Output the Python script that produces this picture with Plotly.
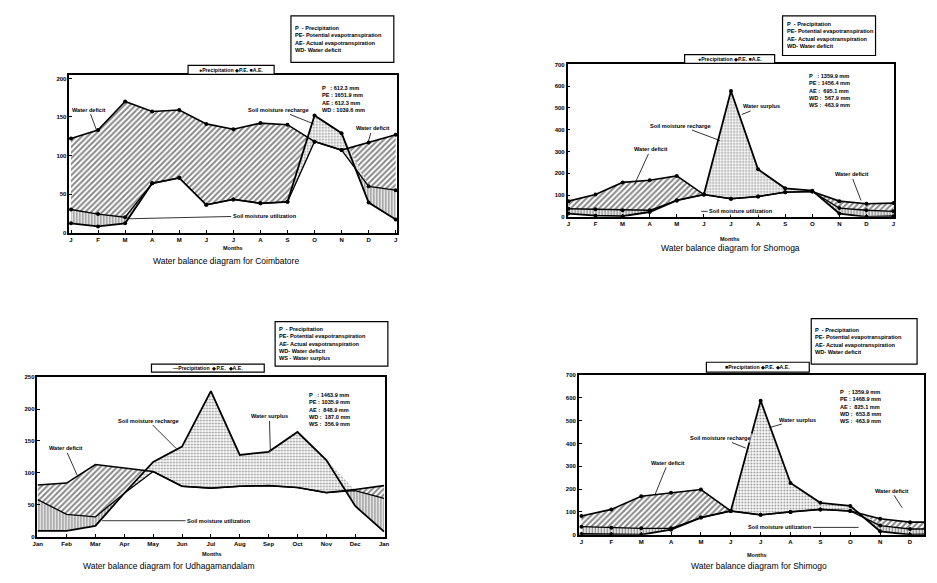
import numpy as np
import plotly.graph_objects as go

PAGE_W, PAGE_H = 937, 583
OFF = 8                      # default body margin of the html page
W, H = PAGE_W - 2 * OFF, PAGE_H - 2 * OFF

# ---------------- data ----------------
months_short = ["J", "F", "M", "A", "M", "J", "J", "A", "S", "O", "N", "D", "J"]
months_long = ["Jan", "Feb", "Mar", "Apr", "May", "Jun", "Jul", "Aug", "Sep", "Oct", "Nov", "Dec", "Jan"]

# Coimbatore
coim_P = [12, 8, 12, 64, 71, 36, 43, 38, 40, 152, 129, 39, 17]
coim_PE = [122, 133, 170, 157, 159, 141, 134, 142, 140, 118, 107, 117, 127]
coim_AE = [30, 24, 20, 64, 71, 36, 43, 38, 40, 118, 107, 60, 55]

# Shomoga (upper)
sho_P = [15, 5, 3, 22, 75, 102, 578, 218, 131, 120, 15, 0, 3]
sho_PE = [72, 102, 158, 168, 188, 102, 83, 93, 113, 116, 72, 60, 63]
sho_AE = [37, 35, 30, 30, 75, 102, 83, 93, 113, 116, 40, 30, 25]

# Udhagamandalam
udh_P = [9, 9, 17, 68, 117, 141, 228, 128, 133, 164, 120, 48, 8]
udh_PE = [81, 84, 113, 107, 102, 79, 76, 79, 80, 77, 69, 74, 80]
udh_AE = [58, 35, 31, 68, 102, 79, 76, 79, 80, 77, 69, 72, 60]

# Shimogo (lower)
shi_P = [3, 2, 0, 22, 75, 104, 588, 227, 140, 126, 15, 0, 3]
shi_PE = [82, 111, 169, 184, 198, 104, 87, 100, 111, 104, 70, 55, 55]
shi_AE = [35, 30, 28, 28, 75, 104, 87, 100, 111, 104, 40, 25, 25]

coim_stats = ["P   : 612.3 mm", "PE : 1651.9 mm", "AE : 612.3 mm", "WD : 1039.6 mm"]
sho_stats = ["P   : 1359.9 mm", "PE : 1456.4 mm", "AE :  695.1 mm", "WD :  567.9 mm", "WS :  463.9 mm"]
udh_stats = ["P   : 1463.9 mm", "PE : 1035.9 mm", "AE :  848.9 mm", "WD :  187.0 mm", "WS :  356.9 mm"]
shi_stats = ["P   : 1359.9 mm", "PE : 1468.9 mm", "AE :  825.1 mm", "WD :  653.8 mm", "WS :  463.9 mm"]

defs4 = ["P  - Precipitation", "PE- Potential evapotranspiration",
         "AE- Actual evapotranspiration", "WD- Water deficit"]
defs5 = defs4 + ["WS - Water surplus"]

FONT = "Liberation Sans, Arial, sans-serif"


def px(x):
    return min(1.0, max(0.0, (x - OFF) / W))


def py(y):
    return min(1.0, max(0.0, 1 - (y - OFF) / H))


panels = [
    dict(P=coim_P, PE=coim_PE, AE=coim_AE, ticks=months_short,
         xd=(65, 396), yd=(73, 232), xr=[-0.06, 12.04], yr=[0, 204], dt=50, markers=True,
         title="Water balance diagram for Coimbatore", title_xy=(223, 261), months_xy=(230, 248),
         legend_box=(185, 63, 272, 72), legend_txt="●Precipitation ◆P.E. ■A.E.",
         defs=defs4, defs_box=(289, 13, 393, 60), defs_xy=(291, 36),
         stats=coim_stats, stats_xy=(318, 97)),
    dict(P=sho_P, PE=sho_PE, AE=sho_AE, ticks=months_short,
         xd=(568.7, 899), yd=(62, 216), xr=[-0.03, 12.03], yr=[0, 700], dt=100, markers=True,
         title="Water balance diagram for Shomoga", title_xy=(733, 248), months_xy=(733, 238),
         legend_box=(687, 52, 778, 61), legend_txt="●Precipitation ◆P.E. ■A.E.",
         defs=defs4, defs_box=(786, 13, 880, 53), defs_xy=(788, 32),
         stats=sho_stats, stats_xy=(811, 88)),
    dict(P=udh_P, PE=udh_PE, AE=udh_AE, ticks=months_long,
         xd=(32.7, 384), yd=(378, 539.3), xr=[-0.01, 12.03], yr=[0, 250], dt=50, markers=False,
         title="Water balance diagram for Udhagamandalam", title_xy=(166, 569), months_xy=(209, 557),
         legend_box=(148, 365, 262, 373), legend_txt="—Precipitation  ◆P.E.  ◆A.E.",
         defs=defs5, defs_box=(273, 322, 387, 367), defs_xy=(275, 344),
         stats=udh_stats, stats_xy=(305, 411)),
    dict(P=shi_P, PE=shi_PE, AE=shi_AE, ticks=months_short,
         xd=(580, 937), yd=(376, 537.3), xr=[-0.09, 11.47], yr=[0, 700], dt=100, markers=True,
         title="Water balance diagram for Shimogo", title_xy=(762, 569), months_xy=(760, 558),
         legend_box=(709, 363, 813, 373), legend_txt="■Precipitation ◆P.E. ◆A.E.",
         defs=defs4, defs_box=(815, 319, 922, 365), defs_xy=(817, 342),
         stats=shi_stats, stats_xy=(842, 408)),
]

fig = go.Figure()
annotations = []
shapes = []

for i, p in enumerate(panels):
    n = "" if i == 0 else str(i + 1)
    xa, ya = "x" + n, "y" + n
    x = list(range(len(p["P"])))
    P = np.array(p["P"], float)
    PE = np.array(p["PE"], float)
    AE = np.array(p["AE"], float)
    top_pa = np.maximum(P, AE)

    def band(lower, upper, shape, fg, size, sol):
        fig.add_trace(go.Scatter(x=x, y=lower, xaxis=xa, yaxis=ya, mode="lines",
                                 line=dict(width=0), showlegend=False, hoverinfo="skip"))
        fig.add_trace(go.Scatter(x=x, y=upper, xaxis=xa, yaxis=ya, mode="lines",
                                 line=dict(width=0), fill="tonexty", fillcolor="rgba(0,0,0,0)",
                                 fillpattern=dict(shape=shape, fgcolor=fg, bgcolor="white",
                                                  size=size, solidity=sol),
                                 showlegend=False, hoverinfo="skip"))

    # water deficit (PE above AE)
    band(AE, PE, "/", "#111111", 4, 0.5)
    # soil moisture utilisation (AE above P)
    band(P, top_pa, "|", "#111111", 3, 0.5)
    # water surplus / recharge (P above AE)
    band(AE, top_pa, ".", "#222222", 3, 0.35)

    mk = dict(size=4, color="black") if p["markers"] else None
    mode = "lines+markers" if p["markers"] else "lines"
    for name, arr, w in (("Precipitation", P, 1.8), ("P.E.", PE, 1.6), ("A.E.", AE, 1.3)):
        fig.add_trace(go.Scatter(x=x, y=arr, xaxis=xa, yaxis=ya, mode=mode, name=name,
                                 line=dict(color="black", width=w), marker=mk,
                                 showlegend=False, cliponaxis=(i == 3)))

    axis_common = dict(showline=True, linecolor="black", linewidth=1.5, mirror=True,
                       showgrid=False, zeroline=False, ticks="inside", ticklen=3,
                       tickcolor="black",
                       tickfont=dict(family=FONT, size=6, color="black", weight="bold"))
    fig.layout["xaxis" + n] = dict(
        axis_common, domain=[px(p["xd"][0]), px(p["xd"][1])], range=p["xr"],
        anchor=ya, tickmode="array", tickvals=x, ticktext=p["ticks"])
    yt = list(range(0, int(p["yr"][1]) + 1, p["dt"]))
    fig.layout["yaxis" + n] = dict(
        axis_common, domain=[py(p["yd"][1]), py(p["yd"][0])], range=p["yr"],
        anchor=xa, tickmode="array", tickvals=yt, ticktext=[str(v) for v in yt])

    # titles
    annotations.append(dict(x=px(p["title_xy"][0]), y=py(p["title_xy"][1]), xref="paper", yref="paper",
                            xanchor="center", yanchor="middle",
                            text=p["title"], showarrow=False,
                            font=dict(family=FONT, size=8.5, color="black")))
    annotations.append(dict(x=px(p["months_xy"][0]), y=py(p["months_xy"][1]), xref="paper", yref="paper",
                            xanchor="center", yanchor="middle",
                            text="Months", showarrow=False,
                            font=dict(family=FONT, size=5.5, color="black", weight="bold")))
    # legend box
    lb = p["legend_box"]
    shapes.append(dict(type="rect", xref="paper", yref="paper", x0=px(lb[0]), x1=px(lb[2]),
                       y0=py(lb[3]), y1=py(lb[1]), line=dict(color="black", width=1.2),
                       fillcolor="white", layer="above"))
    annotations.append(dict(x=px((lb[0] + lb[2]) / 2), y=py((lb[1] + lb[3]) / 2), xref="paper", yref="paper",
                            xanchor="center", yanchor="middle",
                            text=p["legend_txt"], showarrow=False,
                            font=dict(family=FONT, size=5.2, color="black", weight="bold")))
    # definitions box
    db = p["defs_box"]
    shapes.append(dict(type="rect", xref="paper", yref="paper", x0=px(db[0]), x1=px(db[2]),
                       y0=py(db[3]), y1=py(db[1]), line=dict(color="black", width=1.2)))
    annotations.append(dict(x=px(p["defs_xy"][0]), y=py(p["defs_xy"][1]), xref="paper", yref="paper",
                            text="<br>".join(p["defs"]), showarrow=False, xanchor="left",
                            yanchor="middle", align="left",
                            font=dict(family=FONT, size=5.6, color="black", weight="bold")))
    # stats
    annotations.append(dict(x=px(p["stats_xy"][0]), y=py(p["stats_xy"][1]), xref="paper", yref="paper",
                            text="<br>".join(p["stats"]), showarrow=False, xanchor="left",
                            yanchor="middle", align="left",
                            font=dict(family=FONT, size=5.6, color="black", weight="bold")))

# pointer labels: (panel index, label, target month, target value, ax, ay)
labels = [
    (0, "Water deficit", 0.96, 131, -8, -22),
    (0, "Soil moisture recharge", 8.97, 141, -35, -14),
    (0, "Water deficit", 10.98, 117, 4, -14),
    (0, "Soil moisture utilization", 2.13, 18, 136, -3),
    (1, "Soil moisture recharge", 5.6, 350, -40, -15),
    (1, "Water surplus", 6.4, 470, 20, -8),
    (1, "Water deficit", 2.44, 149, 16, -35),
    (1, "Water deficit", 10.8, 75, -10, -26),
    (1, "Soil moisture utilization", 4.9, 25, 40, 0),
    (2, "Water deficit", 1.37, 96, -12, -27),
    (2, "Soil moisture recharge", 4.8, 138, -28, -28),
    (2, "Water surplus", 8.06, 135, -1, -34),
    (2, "Soil moisture utilization", 2.23, 25, 117, 0),
    (3, "Water deficit", 2.46, 175, 13, -32),
    (3, "Soil moisture recharge", 5.5, 380, -25, -10),
    (3, "Water surplus", 6.3, 470, 28, -8),
    (3, "Water deficit", 10.74, 118, -11, -17),
    (3, "Soil moisture utilization", 9.28, 32, -79, 0),
]
for (pi, txt, mx, my, ax, ay) in labels:
    n = "" if pi == 0 else str(pi + 1)
    annotations.append(dict(x=mx, y=my, xref="x" + n, yref="y" + n, text=txt, showarrow=True,
                            arrowhead=0, arrowwidth=0.8, arrowcolor="black", ax=ax, ay=ay,
                            font=dict(family=FONT, size=5.6, color="black", weight="bold"),
                            bgcolor="rgba(255,255,255,0.6)"))

fig.update_layout(width=W, height=H, margin=dict(l=0, r=0, t=0, b=0),
                  paper_bgcolor="white", plot_bgcolor="white", showlegend=False,
                  annotations=annotations, shapes=shapes,
                  font=dict(family=FONT, color="black"))
fig.write_html("out.html")
